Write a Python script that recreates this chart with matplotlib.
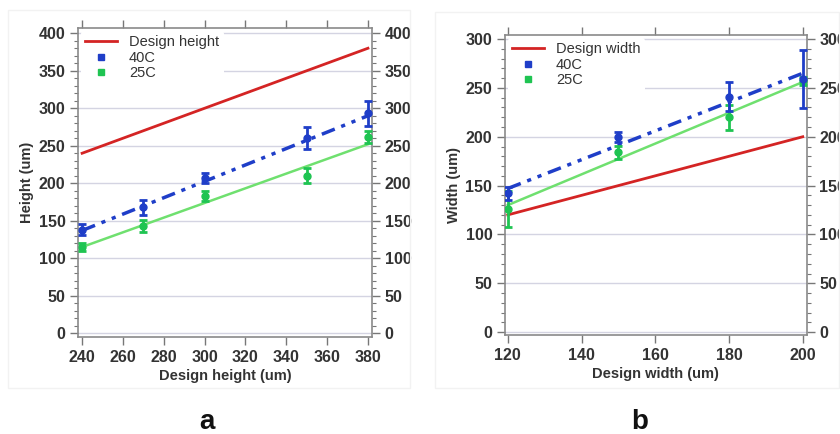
import matplotlib.pyplot as plt
from matplotlib.patches import Rectangle
from matplotlib.ticker import MultipleLocator

plt.rcParams['font.family'] = ['Liberation Sans', 'DejaVu Sans']

# panel a: height
design_h = [240, 270, 300, 350, 380]
h_40c = [138, 168, 207, 260, 293]
h_40c_err = [7, 10, 7, 15, 17]
h_25c = [115, 143, 183, 210, 262]
h_25c_err = [5, 8, 7, 10, 8]
h_40c_fit = [137, 290]
h_25c_fit = [115, 252]

# panel b: width
design_w = [120, 150, 180, 200]
w_40c = [142, 200, 241, 259]
w_40c_err = [7, 5, 15, 30]
w_25c = [126, 184, 220, 257]
w_25c_err = [18, 7, 13, 4]
w_40c_fit = [147, 265]
w_25c_fit = [130, 256]

RED = '#d42424'
BLUE = '#1f3ec8'
GREEN = '#1fc452'
LGREEN = '#6fe06f'
TXT = '#333333'


def draw_panel(ax, xs, y40, e40, y25, e25, fit40, fit25, xlim, ylim, ymax,
               xstep, xlabel, ylabel, design_label):
    ax.set_xlim(*xlim)
    ax.set_ylim(*ylim)
    for y in range(0, ymax + 1, 50):
        ax.axhline(y, color='#d4d4e2', lw=1, zorder=0)
    ends = [xs[0], xs[-1]]
    ax.plot(ends, ends, color=RED, lw=2, label=design_label, zorder=3)
    ax.plot(ends, fit25, color=LGREEN, lw=1.8, zorder=3)
    ax.plot(ends, fit40, color=BLUE, lw=2.5, dashes=(4, 2, 1.2, 2, 1.2, 2), zorder=4)
    ax.errorbar(xs, y25, yerr=e25, fmt='o', color=GREEN, ms=5, elinewidth=2,
                capsize=3, capthick=2, zorder=5)
    ax.errorbar(xs, y40, yerr=e40, fmt='o', color=BLUE, ms=5, elinewidth=2,
                capsize=3, capthick=2, zorder=6)
    ax.plot([], [], 's', color=BLUE, ms=4, label='40C')
    ax.plot([], [], 's', color=GREEN, ms=4, label='25C')
    leg = ax.legend(loc='upper left', frameon=True, fontsize=10.5, handlelength=2.2,
                    borderaxespad=0.2, labelspacing=0.1, borderpad=0.3)
    leg.get_frame().set_edgecolor('none')
    leg.get_frame().set_facecolor('white')
    leg.get_frame().set_alpha(1)
    for t in leg.get_texts():
        t.set_color(TXT)

    ax.xaxis.set_major_locator(MultipleLocator(xstep))
    ax.yaxis.set_major_locator(MultipleLocator(50))
    ax.yaxis.set_minor_locator(MultipleLocator(10))
    ax.tick_params(axis='y', which='both', left=True, right=True, labelright=True,
                   direction='out', color='#777777')
    ax.tick_params(axis='y', which='major', length=6, width=1)
    ax.tick_params(axis='y', which='minor', length=3, width=0.8)
    ax.tick_params(axis='x', which='major', top=True, bottom=True, direction='out',
                   length=6, width=1, color='#777777')
    ax.tick_params(labelsize=11.5, labelcolor=TXT, pad=3)
    for lab in ax.get_xticklabels() + ax.get_yticklabels():
        lab.set_fontweight('bold')
    ax.set_xlabel(xlabel, fontsize=10.5, fontweight='bold', color=TXT, labelpad=3)
    ax.set_ylabel(ylabel, fontsize=10.5, fontweight='bold', color=TXT, labelpad=3)
    for s in ax.spines.values():
        s.set_color('#8a8a8a')
        s.set_linewidth(1.2)


fig = plt.figure(figsize=(8.4, 4.34), dpi=100)
fig.add_artist(Rectangle((8 / 840, 1 - 388 / 434), 402 / 840, 378 / 434,
                         transform=fig.transFigure, fill=False, ec='#f2f2f2', lw=1))
fig.add_artist(Rectangle((435 / 840, 1 - 388 / 434), 404 / 840, 376 / 434,
                         transform=fig.transFigure, fill=False, ec='#f2f2f2', lw=1))

ax_a = fig.add_axes([0.0929, 0.2235, 0.35, 0.712])
draw_panel(ax_a, design_h, h_40c, h_40c_err, h_25c, h_25c_err, h_40c_fit, h_25c_fit,
           (238, 382), (-5, 407), 400, 20, 'Design height (um)', 'Height (um)',
           'Design height')

ax_b = fig.add_axes([0.601, 0.228, 0.3595, 0.691])
draw_panel(ax_b, design_w, w_40c, w_40c_err, w_25c, w_25c_err, w_40c_fit, w_25c_fit,
           (119.2, 201.1), (-3, 304), 300, 20, 'Design width (um)', 'Width (um)',
           'Design width')

fig.text(207 / 840, 1 - 422 / 434, 'a', fontsize=20, fontweight='bold',
         ha='center', va='center', color='#111111')
fig.text(640 / 840, 1 - 422 / 434, 'b', fontsize=20, fontweight='bold',
         ha='center', va='center', color='#111111')

fig.savefig('out.png', dpi=100)
